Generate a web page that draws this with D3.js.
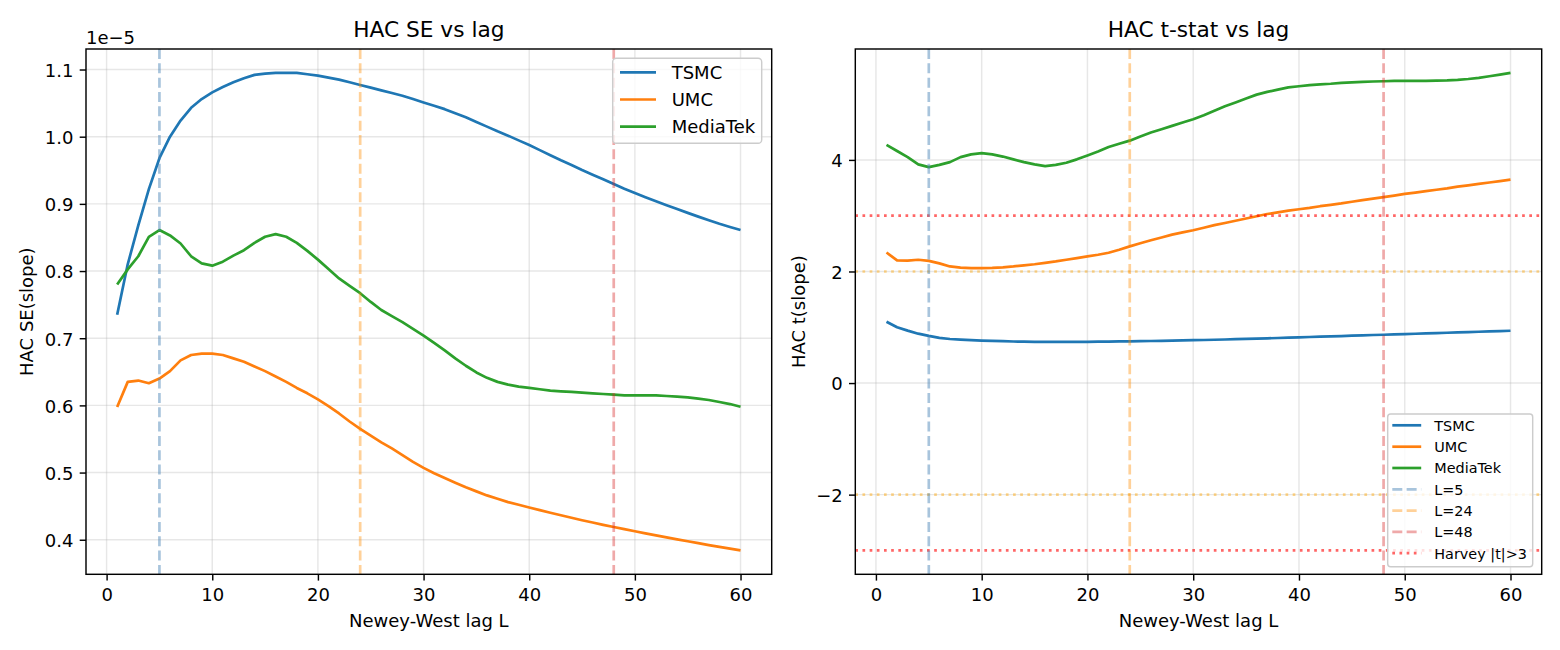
<!DOCTYPE html>
<html><head><meta charset="utf-8">
<script src="https://cdn.jsdelivr.net/npm/d3@7"></script>
<style>body{margin:0;background:#fff}svg{display:block;font-family:"DejaVu Sans",sans-serif}</style>
</head><body>
<svg id="c" width="1560" height="650"></svg>
<script>
const lags = [1,2,3,4,5,6,7,8,9,10,11,12,13,14,15,16,17,18,19,20,21,22,23,24,25,26,27,28,29,30,
  31,32,33,34,35,36,37,38,39,40,41,42,43,44,45,46,47,48,49,50,51,52,53,54,55,56,57,58,59,60];
const seriesNames = ["TSMC","UMC","MediaTek"];
// HAC SE (x 1e-5)
const seTSMC = [0.735,0.81,0.868,0.922,0.968,1.0,1.024,1.043,1.056,1.066,1.074,1.081,1.087,1.092,1.094,1.095,1.095,1.095,1.093,1.091,
  1.088,1.085,1.081,1.077,1.073,1.069,1.065,1.061,1.056,1.051,1.046,1.041,1.035,1.029,1.022,1.015,1.008,1.0015,0.9945,0.9875,
  0.980,0.9725,0.965,0.958,0.9505,0.9435,0.9365,0.9295,0.9225,0.916,0.9098,0.9038,0.898,0.8922,0.8866,0.881,0.8756,0.8704,0.8656,0.861];
const seUMC = [0.5975,0.635,0.637,0.633,0.640,0.651,0.667,0.675,0.677,0.677,0.675,0.670,0.665,0.658,0.651,0.643,0.635,0.626,0.618,0.609,
  0.599,0.588,0.576,0.565,0.555,0.545,0.536,0.526,0.516,0.507,0.499,0.492,0.485,0.478,0.472,0.466,0.461,0.456,0.452,0.448,
  0.4441,0.4402,0.4364,0.4327,0.4291,0.4256,0.4222,0.4189,0.4157,0.4126,0.4095,0.4065,0.4035,0.4006,0.3977,0.3949,0.3921,0.3894,0.3867,0.3841];
const seMTK = [0.780,0.8025,0.822,0.851,0.861,0.853,0.841,0.822,0.8115,0.808,0.814,0.823,0.831,0.842,0.851,0.855,0.851,0.842,0.830,0.817,
  0.803,0.789,0.778,0.767,0.754,0.742,0.733,0.724,0.714,0.704,0.693,0.682,0.670,0.659,0.649,0.641,0.635,0.631,0.628,0.626,
  0.624,0.622,0.621,0.620,0.619,0.618,0.617,0.616,0.615,0.615,0.615,0.615,0.614,0.613,0.612,0.610,0.608,0.605,0.602,0.598];
// HAC t-stat
const tTSMC = [1.10,1.00,0.94,0.885,0.845,0.81,0.79,0.778,0.768,0.76,0.755,0.75,0.745,0.742,0.74,0.738,0.738,0.738,0.739,0.74,
  0.742,0.744,0.746,0.748,0.751,0.754,0.757,0.76,0.764,0.768,0.772,0.776,0.781,0.786,0.791,0.796,0.802,0.808,0.814,0.82,
  0.826,0.832,0.838,0.843,0.849,0.855,0.861,0.866,0.872,0.878,0.884,0.89,0.896,0.902,0.908,0.914,0.92,0.926,0.932,0.938];
const tUMC = [2.34,2.20,2.195,2.21,2.19,2.145,2.09,2.07,2.06,2.06,2.065,2.075,2.09,2.11,2.13,2.155,2.18,2.21,2.24,2.27,
  2.30,2.335,2.39,2.45,2.505,2.56,2.61,2.66,2.70,2.74,2.785,2.83,2.87,2.91,2.95,2.99,3.03,3.06,3.09,3.115,
  3.14,3.17,3.195,3.22,3.25,3.28,3.305,3.333,3.36,3.39,3.415,3.44,3.465,3.49,3.52,3.545,3.57,3.595,3.62,3.645];
const tMTK = [4.27,4.16,4.05,3.92,3.87,3.91,3.96,4.05,4.10,4.12,4.10,4.06,4.01,3.96,3.92,3.89,3.91,3.95,4.01,4.08,
  4.15,4.23,4.29,4.345,4.42,4.49,4.55,4.61,4.67,4.73,4.80,4.88,4.96,5.03,5.10,5.17,5.22,5.26,5.30,5.32,
  5.34,5.355,5.365,5.38,5.39,5.40,5.405,5.41,5.415,5.417,5.418,5.418,5.42,5.425,5.435,5.45,5.47,5.50,5.53,5.56];
const refLags = [5,24,48];
const refLabels = ["L=5","L=24","L=48"];
const harvey = [3,-3];
const weak = [2,-2];
const xTicks = [0,10,20,30,40,50,60];
const seTicks = [0.4,0.5,0.6,0.7,0.8,0.9,1.0,1.1];
const tTicks = [-2,0,2,4];

const colors = ["#1f77b4","#ff7f0e","#2ca02c"];
const refColors = ["#4682b4","#ff8c00","#d62728"];
const refOpacity = [0.47,0.4,0.4];
const svg = d3.select("#c");
svg.append("rect").attr("width",1560).attr("height",650).attr("fill","#fff");

const yTop=49, yBot=574.3;
const fmtMinus = v => String(v).replace("-","\u2212");

function pad(ext, f){const r=ext[1]-ext[0];return [ext[0]-f*r, ext[1]+f*r];}

function panel(opt){
  const g = svg.append("g");
  const x = d3.scaleLinear().domain(pad(d3.extent(lags),0.05)).range([opt.left,opt.right]);
  const y = d3.scaleLinear().domain(pad(opt.yext,0.05)).range([yBot,yTop]);
  const grid = g.append("g").attr("stroke","#b0b0b0").attr("stroke-opacity",0.3).attr("stroke-width",1.44);
  opt.xt.forEach(t=>grid.append("line").attr("x1",x(t)).attr("x2",x(t)).attr("y1",yTop).attr("y2",yBot));
  opt.yt.forEach(t=>grid.append("line").attr("y1",y(t)).attr("y2",y(t)).attr("x1",opt.left).attr("x2",opt.right));
  const clip = "clip"+opt.id;
  svg.append("clipPath").attr("id",clip).append("rect").attr("x",opt.left).attr("y",yTop).attr("width",opt.right-opt.left).attr("height",yBot-yTop);
  const plot = g.append("g").attr("clip-path",`url(#${clip})`);
  const line = d3.line().x((d,i)=>x(lags[i])).y(d=>y(d));
  opt.series.forEach((s,i)=>plot.append("path").attr("d",line(s)).attr("fill","none")
    .attr("stroke",colors[i]).attr("stroke-width",2.7).attr("stroke-linejoin","round").attr("stroke-linecap","butt"));
  if(opt.hlines){
    weak.forEach(v=>plot.append("line").attr("x1",opt.left).attr("x2",opt.right).attr("y1",y(v)).attr("y2",y(v))
      .attr("stroke","#ffa500").attr("stroke-opacity",0.45).attr("stroke-width",2.7).attr("stroke-dasharray","2.7,4.47"));
    harvey.forEach(v=>plot.append("line").attr("x1",opt.left).attr("x2",opt.right).attr("y1",y(v)).attr("y2",y(v))
      .attr("stroke","#ff0000").attr("stroke-opacity",0.6).attr("stroke-width",2.7).attr("stroke-dasharray","2.7,4.47"));
  }
  refLags.forEach((L,i)=>plot.append("line").attr("x1",x(L)).attr("x2",x(L)).attr("y1",yTop).attr("y2",yBot)
    .attr("stroke",refColors[i]).attr("stroke-opacity",refOpacity[i]).attr("stroke-width",2.7).attr("stroke-dasharray","10,4.33"));
  const xa = g.append("g").attr("transform",`translate(0,${yBot})`)
    .call(d3.axisBottom(x).tickValues(opt.xt).tickSize(6.3).tickPadding(6.3).tickFormat(d=>d));
  const ya = g.append("g").attr("transform",`translate(${opt.left},0)`)
    .call(d3.axisLeft(y).tickValues(opt.yt).tickSize(6.3).tickPadding(6.3).tickFormat(opt.yfmt));
  [xa,ya].forEach(a=>{a.select(".domain").remove();a.selectAll("line").attr("stroke","#000").attr("stroke-width",1.44);
    a.selectAll("text").attr("font-size",18).attr("fill","#000").attr("font-family","DejaVu Sans");});
  xa.selectAll("text").attr("dy",null).attr("y",null).attr("transform","translate(0,26.3)");
  ya.selectAll("text").attr("dy",null).attr("transform","translate(0,6.8)");
  g.append("rect").attr("x",opt.left).attr("y",yTop).attr("width",opt.right-opt.left).attr("height",yBot-yTop)
    .attr("fill","none").attr("stroke","#000").attr("stroke-width",1.44);
  const cx=(opt.left+opt.right)/2;
  g.append("text").attr("x",cx).attr("y",37).attr("text-anchor","middle").attr("font-size",21.7).text(opt.title);
  g.append("text").attr("x",cx).attr("y",627).attr("text-anchor","middle").attr("font-size",18).text("Newey-West lag L");
  g.append("text").attr("transform",`translate(${opt.ylx},${(yTop+yBot)/2}) rotate(-90)`).attr("text-anchor","middle")
    .attr("font-size",18).text(opt.ylabel);
  return {g,x,y};
}

const p1 = panel({id:1,left:86,right:771.7,yext:d3.extent([...seTSMC,...seUMC,...seMTK]),
  series:[seTSMC,seUMC,seMTK],xt:xTicks,yt:seTicks,yfmt:d3.format(".1f"),title:"HAC SE vs lag",ylabel:"HAC SE(slope)",ylx:33.4});
p1.g.append("text").attr("x",86).attr("y",43.5).attr("font-size",18).text("1e\u22125");

const p2 = panel({id:2,left:855.3,right:1541.7,yext:d3.extent([...tTSMC,...tUMC,...tMTK,...harvey]),hlines:true,
  series:[tTSMC,tUMC,tMTK],xt:xTicks,yt:tTicks,yfmt:fmtMinus,title:"HAC t-stat vs lag",ylabel:"HAC t(slope)",ylx:804.8});

(function(){
  const g=svg.append("g");
  g.append("rect").attr("x",612.7).attr("y",58.3).attr("width",149).attr("height",85).attr("rx",3.6)
    .attr("fill","#fff").attr("fill-opacity",0.8).attr("stroke","#cccccc").attr("stroke-width",1.44);
  const rows=[72.3,99.5,126.7];
  seriesNames.forEach((n,i)=>{
    g.append("line").attr("x1",620).attr("x2",656).attr("y1",rows[i]).attr("y2",rows[i]).attr("stroke",colors[i]).attr("stroke-width",2.7);
    g.append("text").attr("x",671.7).attr("y",rows[i]+6.6).attr("font-size",18).text(n);
  });
})();
(function(){
  const g=svg.append("g");
  g.append("rect").attr("x",1387.7).attr("y",414).attr("width",145).attr("height",152.7).attr("rx",2.9)
    .attr("fill","#fff").attr("fill-opacity",0.8).attr("stroke","#cccccc").attr("stroke-width",1.44);
  const rows=[425.3,446.7,468,489.3,510.6,531.9,553.2];
  const items=[
    ...seriesNames.map((n,i)=>({n,c:colors[i],o:1,d:null})),
    ...refLabels.map((n,i)=>({n,c:refColors[i],o:refOpacity[i],d:"10,4.33"})),
    {n:"Harvey |t|>3",c:"#ff0000",o:0.6,d:"2.7,4.47"}];
  items.forEach((it,i)=>{
    const l=g.append("line").attr("x1",1392.3).attr("x2",1421.2).attr("y1",rows[i]).attr("y2",rows[i])
      .attr("stroke",it.c).attr("stroke-opacity",it.o).attr("stroke-width",2.7);
    if(it.d) l.attr("stroke-dasharray",it.d);
    g.append("text").attr("x",1434.3).attr("y",rows[i]+5.3).attr("font-size",14.4).text(it.n);
  });
})();
</script>
</body></html>
